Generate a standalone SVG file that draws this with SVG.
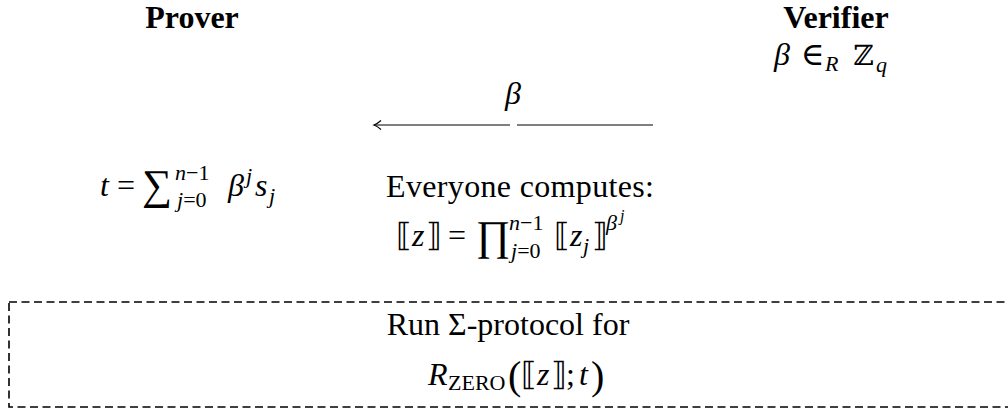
<svg xmlns="http://www.w3.org/2000/svg" width="1008" height="416" viewBox="0 0 1008 416">
<style>
text{font-family:"Liberation Serif","DejaVu Serif",serif;font-size:32px;fill:#000}
.b{font-weight:bold}
.i{font-style:italic}
.s{font-size:22px}
.ss{font-size:16px}
.big{font-size:42px}
.ln{stroke:#000;stroke-width:1.2;fill:none}
.dash{stroke:#000;stroke-width:1.6;fill:none;stroke-dasharray:8 4.5}
</style>
<g id="prover-header"><text class="b" x="192" y="28" text-anchor="middle" font-size="30">Prover</text></g>
<g id="verifier-header"><text class="b" x="836" y="28" text-anchor="middle" font-size="30">Verifier</text></g>
<g id="verifier-sample">
<text x="774" y="65"><tspan class="i">β</tspan><tspan x="801">∈</tspan><tspan class="i s" x="825" y="71">R</tspan><tspan x="853" y="65" style="font-family:'DejaVu Serif',serif;font-size:28px">ℤ</tspan><tspan class="i s" x="876" y="72">q</tspan></text>
</g>
<g id="message-label"><text class="i" x="513" y="104" text-anchor="middle" font-size="33">β</text></g>
<g id="prover-compute">
<text x="100" y="196"><tspan class="i">t</tspan><tspan x="117">=</tspan><tspan class="big" x="142" y="199">∑</tspan><tspan class="s" x="175" y="180"><tspan class="i">n</tspan>−1</tspan><tspan class="s" x="177" y="207"><tspan class="i">j</tspan>=0</tspan><tspan class="i" x="228" y="196">β</tspan><tspan class="i s" x="246" y="183">j</tspan><tspan class="i" x="255" y="196">s</tspan><tspan class="i s" x="269" y="203">j</tspan></text>
</g>
<g id="everyone-computes">
<text x="386" y="197" textLength="268" lengthAdjust="spacing">Everyone computes:</text>
<text x="396" y="246"><tspan>⟦</tspan><tspan class="i" x="412">z</tspan><tspan x="426">⟧</tspan><tspan x="448">=</tspan><tspan class="big" x="476" y="250">∏</tspan><tspan class="s" x="509" y="230"><tspan class="i">n</tspan>−1</tspan><tspan class="s" x="511" y="258"><tspan class="i">j</tspan>=0</tspan><tspan x="554" y="246">⟦</tspan><tspan class="i" x="570">z</tspan><tspan class="i s" x="583" y="253">j</tspan><tspan x="592" y="246">⟧</tspan><tspan class="i s" x="606" y="230">β</tspan><tspan class="i ss" x="620" y="221">j</tspan></text>
</g>
<g id="connectors">
<line class="ln" x1="374" y1="125" x2="510" y2="125"/>
<line class="ln" x1="517" y1="125" x2="653" y2="125"/>
<path class="ln" d="M381,120.5 Q377,124 374,125 Q377,126 381,129.5"/>
</g>
<g id="sigma-protocol-box">
<rect class="dash" x="9" y="302" width="1012" height="105"/>
<text x="508" y="335" text-anchor="middle">Run Σ-protocol for</text>
<text x="428" y="385"><tspan class="i">R</tspan><tspan class="s" x="448" y="390">ZERO</tspan><tspan x="508" y="389" style="font-size:40px">(</tspan><tspan x="521" y="385">⟦</tspan><tspan class="i" x="537">z</tspan><tspan x="551">⟧</tspan><tspan x="566">;</tspan><tspan class="i" x="579">t</tspan><tspan x="591" y="389" style="font-size:40px">)</tspan></text>
</g>
</svg>
